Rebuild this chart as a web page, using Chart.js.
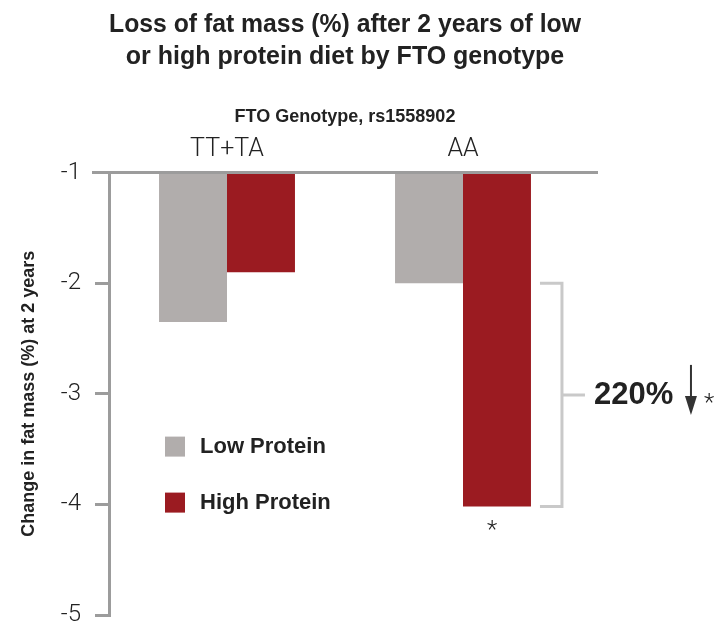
<!DOCTYPE html>
<html>
<head>
<meta charset="utf-8">
<script src="https://cdn.jsdelivr.net/npm/chart.js@4.4.0/dist/chart.umd.min.js"></script>
<style>
    html, body { margin: 0; padding: 0; background: #fff; }
    #wrap { width: 719px; height: 622px; }
</style>
</head>
<body>
<div id="wrap"><canvas id="cFat"></canvas></div>
<script>
// data
const genotypes = ['TT+TA', 'AA'];
const lowProtein = [-2.35, -2.0];
const highProtein = [-1.9, -4.02];
const seriesNames = ['Low Protein', 'High Protein'];
const yTicks = [-1, -2, -3, -4, -5];
const changeText = '220%';

const SANS = '"Liberation Sans", Arial, sans-serif';
const LIGHT = 'Roboto, "Liberation Sans", sans-serif';
const DARK = '#222222';
const AXIS = '#9c9c9c';
Chart.defaults.font.family = SANS;

// top line, legend and the bracket note
const extras = {
    id: 'extras',
    afterDatasetsDraw(chart) {
        const ctx = chart.ctx, area = chart.chartArea, y = chart.scales.y;
        ctx.save();

        let y0 = y.getPixelForValue(-1);
        ctx.strokeStyle = AXIS;
        ctx.lineWidth = 3;
        ctx.beginPath();
        ctx.moveTo(area.left - 17, y0);
        ctx.lineTo(area.right + 17, y0);
        ctx.stroke();

        // legend
        chart.data.datasets.forEach((ds, i) => {
            let top = area.top + 264 + i * 56;
            ctx.fillStyle = ds.backgroundColor;
            ctx.fillRect(area.left + 56, top, 20, 20);
            ctx.fillStyle = DARK;
            ctx.font = 'bold 22px ' + SANS;
            ctx.textAlign = 'left';
            ctx.textBaseline = 'middle';
            ctx.fillText(ds.label, area.left + 91, top + 10);
        });

        // bracket between AA bars
        const lowBar = chart.getDatasetMeta(0).data[1];
        const highBar = chart.getDatasetMeta(1).data[1];
        let yA = lowBar.y, yB = highBar.y, yM = (yA + yB) / 2;
        let bx = highBar.x + highBar.width / 2;
        ctx.strokeStyle = '#c9c9c9';
        ctx.lineWidth = 3;
        ctx.beginPath();
        ctx.moveTo(bx + 9, yA);
        ctx.lineTo(bx + 31, yA);
        ctx.lineTo(bx + 31, yB);
        ctx.lineTo(bx + 9, yB);
        ctx.moveTo(bx + 31, yM);
        ctx.lineTo(bx + 54, yM);
        ctx.stroke();

        ctx.fillStyle = DARK;
        ctx.font = 'bold 31px ' + SANS;
        ctx.textAlign = 'left';
        ctx.textBaseline = 'middle';
        ctx.fillText(changeText, bx + 63, yM + 1);

        // down arrow
        let ax = bx + 160;
        ctx.strokeStyle = '#333';
        ctx.fillStyle = '#333';
        ctx.lineWidth = 2;
        ctx.beginPath();
        ctx.moveTo(ax, yM - 30);
        ctx.lineTo(ax, yM + 5);
        ctx.stroke();
        ctx.beginPath();
        ctx.moveTo(ax - 6, yM + 1);
        ctx.lineTo(ax + 6, yM + 1);
        ctx.lineTo(ax, yM + 20);
        ctx.closePath();
        ctx.fill();

        ctx.font = '300 24px ' + LIGHT;
        ctx.textAlign = 'center';
        ctx.fillStyle = DARK;
        ctx.fillText('*', ax + 18, yM + 9);
        ctx.fillText('*', highBar.x - 5, yB + 24);

        ctx.restore();
    }
};

new Chart(document.getElementById('cFat'), {
    type: 'bar',
    data: {
        labels: genotypes,
        datasets: [{
            label: seriesNames[0],
            data: lowProtein,
            base: -1,
            backgroundColor: '#b1adac',
            barPercentage: 1,
            categoryPercentage: 0.576
        }, {
            label: seriesNames[1],
            data: highProtein,
            base: -1,
            backgroundColor: '#9b1b21',
            barPercentage: 1,
            categoryPercentage: 0.576
        }]
    },
    options: {
        responsive: true,
        maintainAspectRatio: false,
        animation: false,
        layout: { padding: { left: 0, right: 138, top: 0, bottom: 7 } },
        plugins: {
            legend: { display: false },
            tooltip: { enabled: false },
            title: {
                display: true,
                fullSize: false,
                text: ['Loss of fat mass (%) after 2 years of low', 'or high protein diet by FTO genotype'],
                color: DARK,
                font: { size: 25, weight: 'bold', lineHeight: 1.28 },
                padding: { top: 9, bottom: 33 }
            },
            subtitle: {
                display: true,
                fullSize: false,
                text: 'FTO Genotype, rs1558902',
                color: DARK,
                font: { size: 18, weight: 'bold', lineHeight: 1.2 },
                padding: { top: 0, bottom: 0 }
            }
        },
        scales: {
            x: {
                position: 'top',
                afterFit: s => { s.height = 45; },
                grid: { display: false, drawTicks: false },
                border: { display: false },
                ticks: { color: DARK, font: { family: LIGHT, size: 25, weight: 300 }, padding: 8 }
            },
            y: {
                min: -5,
                max: -1,
                afterBuildTicks: s => { s.ticks = yTicks.map(v => ({ value: v })); },
                afterFit: s => { s.width = 109; s.paddingBottom = 0; s.paddingTop = 0; },
                border: { color: AXIS, width: 3 },
                grid: { drawOnChartArea: false, color: AXIS, lineWidth: 3, tickLength: 14 },
                ticks: { color: DARK, font: { family: LIGHT, size: 24, weight: 300 }, padding: 14 },
                title: {
                    display: true,
                    text: 'Change in fat mass (%) at 2 years',
                    color: DARK,
                    font: { size: 18, weight: 'bold' },
                    padding: { top: 18, bottom: 0 }
                }
            }
        }
    },
    plugins: [extras]
});
</script>
</body>
</html>
